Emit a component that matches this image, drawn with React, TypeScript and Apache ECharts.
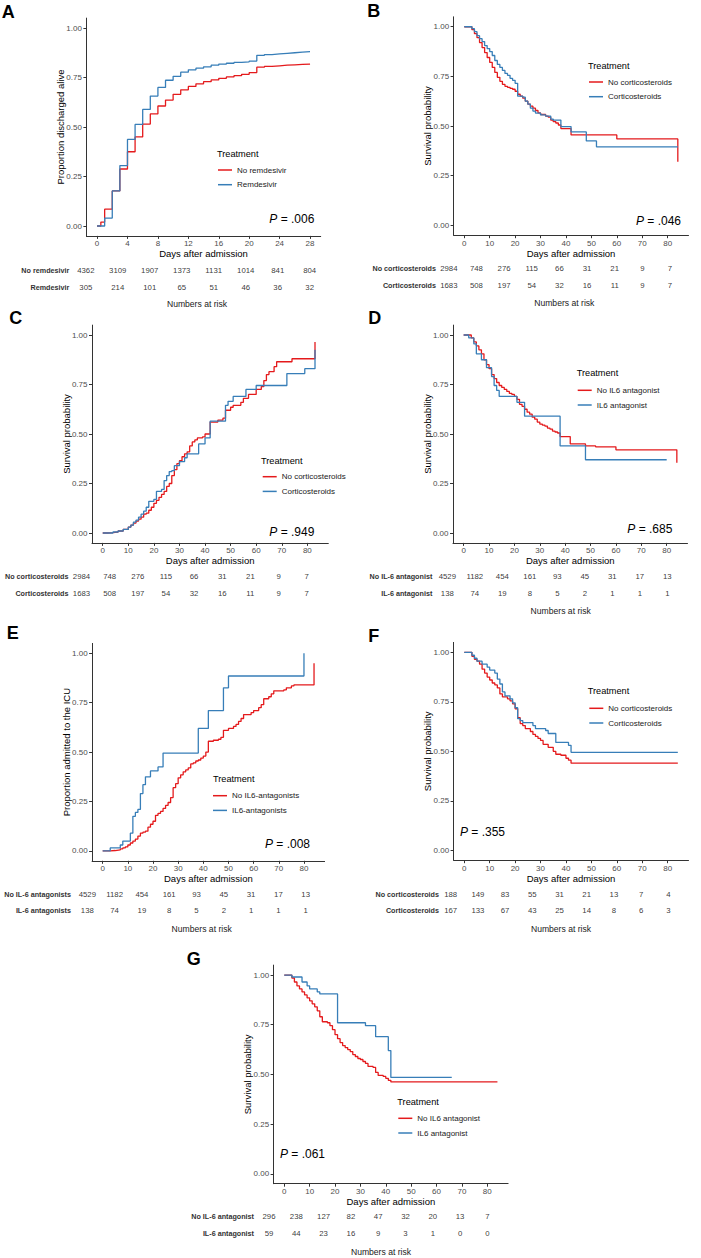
import React, { useEffect, useRef } from 'react';
import * as echarts from 'echarts';

const FONT = "'Liberation Sans', Arial, Helvetica, sans-serif";
const RED = '#E41A1C';
const BLUE = '#377EB8';

const PROB_TICKS = [0, 0.25, 0.5, 0.75, 1];
const DAY_TICKS_28 = [0, 4, 8, 12, 16, 20, 24, 28];
const DAY_TICKS_80 = [0, 10, 20, 30, 40, 50, 60, 70, 80];

// ---- Panel A: discharged alive, remdesivir ----
const A_NO_REMDESIVIR = [[0,0],[0.5,0.02],[1,0.085],[2,0.177],[3,0.288],[4,0.375],[5,0.45],[6,0.515],[7,0.566],[8,0.606],[9,0.636],[10,0.665],[11,0.688],[12,0.705],[13,0.718],[14,0.729],[15,0.738],[16,0.746],[17,0.753],[18,0.759],[19,0.766],[20,0.775],[21,0.802],[22,0.806],[23,0.809],[24,0.812],[25,0.814],[26,0.816],[27,0.818],[28,0.82]];
const A_REMDESIVIR = [[0,0],[1,0.04],[2,0.177],[3,0.305],[4,0.437],[5,0.513],[6,0.589],[7,0.656],[8,0.70],[9,0.736],[10,0.756],[11,0.777],[12,0.789],[13,0.797],[14,0.804],[15,0.812],[16,0.818],[17,0.822],[18,0.826],[19,0.829],[20,0.833],[21,0.862],[22,0.866],[23,0.869],[24,0.872],[25,0.875],[26,0.878],[27,0.881],[28,0.884]];
const A_RISK_NO = [4362, 3109, 1907, 1373, 1131, 1014, 841, 804];
const A_RISK_YES = [305, 214, 101, 65, 51, 46, 36, 32];

// ---- Panel B: survival, corticosteroids ----
const B_NO_CORTICO = [[0,1],[3,0.985],[4,0.965],[5,0.945],[6,0.92],[7,0.895],[8,0.87],[9,0.845],[10,0.82],[11,0.795],[12,0.77],[13,0.745],[14,0.725],[15,0.71],[16,0.70],[17,0.695],[18,0.69],[19,0.685],[20,0.675],[21,0.66],[22,0.65],[23,0.64],[24,0.625],[25,0.61],[26,0.60],[27,0.59],[28,0.578],[29,0.566],[30,0.558],[32,0.55],[33,0.545],[34,0.53],[35,0.522],[36,0.515],[37,0.505],[38,0.487],[42,0.455],[60,0.435],[84,0.32]];
const B_CORTICO = [[0,1],[3,0.99],[4,0.975],[5,0.955],[6,0.94],[7,0.925],[8,0.905],[9,0.89],[10,0.875],[11,0.855],[12,0.83],[13,0.81],[14,0.795],[15,0.78],[16,0.765],[17,0.755],[18,0.74],[19,0.73],[20,0.715],[21,0.65],[23,0.645],[24,0.625],[25,0.61],[26,0.59],[27,0.575],[28,0.565],[30,0.556],[32,0.55],[34,0.535],[35,0.53],[38,0.497],[42,0.47],[48,0.425],[52,0.395],[84,0.395]];
const B_RISK_NO = [2984, 748, 276, 115, 66, 31, 21, 9, 7];
const B_RISK_YES = [1683, 508, 197, 54, 32, 16, 11, 9, 7];

// ---- Panel C ----
const C_NO_CORTICO = [[0,0],[2,0.002],[4,0.005],[6,0.01],[8,0.018],[10,0.03],[11,0.04],[12,0.05],[13,0.06],[14,0.07],[15,0.08],[16,0.095],[17,0.10],[18,0.115],[19,0.13],[20,0.15],[21,0.165],[22,0.18],[23,0.195],[24,0.21],[25,0.235],[26,0.25],[27,0.29],[28,0.32],[29,0.35],[30,0.365],[31,0.385],[32,0.40],[33,0.41],[34,0.44],[35,0.46],[36,0.47],[37,0.48],[39,0.485],[40,0.50],[42,0.56],[45,0.57],[47,0.58],[48,0.62],[50,0.635],[51,0.645],[54,0.66],[55,0.68],[57,0.70],[60,0.725],[62,0.74],[63,0.77],[64,0.80],[65,0.815],[67,0.84],[68,0.865],[74,0.88],[83,0.965]];
const C_CORTICO = [[0,0],[4,0.005],[6,0.01],[8,0.018],[10,0.03],[11,0.04],[12,0.055],[13,0.065],[14,0.08],[15,0.095],[16,0.11],[17,0.13],[18,0.16],[20,0.17],[21,0.21],[23,0.22],[24,0.265],[25,0.29],[26,0.31],[27,0.315],[28,0.34],[30,0.36],[32,0.38],[33,0.40],[37.5,0.45],[40,0.48],[42,0.565],[48,0.645],[49,0.665],[51,0.69],[56,0.725],[60,0.745],[72,0.805],[79,0.83],[83,0.925]];
const C_RISK_NO = [2984, 748, 276, 115, 66, 31, 21, 9, 7];
const C_RISK_YES = [1683, 508, 197, 54, 32, 16, 11, 9, 7];

// ---- Panel D ----
const D_NO_IL6 = [[0,1],[3,0.985],[4,0.965],[5,0.945],[6,0.925],[7,0.905],[8,0.875],[9,0.85],[10,0.83],[11,0.80],[12,0.78],[13,0.76],[14,0.745],[15,0.735],[16,0.725],[17,0.715],[18,0.705],[19,0.70],[20,0.69],[21,0.675],[22,0.65],[23,0.64],[24,0.625],[25,0.61],[26,0.60],[27,0.585],[28,0.575],[29,0.56],[30,0.55],[31,0.545],[32,0.54],[33,0.53],[34,0.525],[35,0.515],[36,0.51],[37,0.505],[38,0.487],[42,0.45],[48,0.44],[52,0.435],[60,0.42],[84,0.355]];
const D_IL6 = [[0,1],[2,0.985],[4,0.955],[5,0.905],[7,0.875],[9,0.835],[11,0.79],[12,0.745],[13,0.72],[14,0.69],[21,0.66],[24,0.59],[38,0.44],[48,0.37],[80,0.37]];
const D_RISK_NO = [4529, 1182, 454, 161, 93, 45, 31, 17, 13];
const D_RISK_YES = [138, 74, 19, 8, 5, 2, 1, 1, 1];

// ---- Panel E: admitted to ICU ----
const E_NO_IL6 = [[0,0],[3,0.002],[5,0.005],[7,0.01],[8,0.015],[9,0.02],[10,0.03],[11,0.04],[12,0.05],[13,0.06],[14,0.075],[15,0.09],[16,0.095],[17,0.10],[18,0.12],[19,0.135],[20,0.15],[21,0.18],[22,0.19],[23,0.20],[24,0.215],[25,0.23],[26,0.245],[27,0.27],[28,0.32],[29,0.34],[30,0.37],[31,0.385],[32,0.40],[33,0.41],[34,0.42],[35,0.44],[36,0.445],[37,0.455],[38,0.46],[39,0.47],[40,0.48],[41,0.50],[42,0.555],[44,0.56],[46,0.565],[47,0.575],[48,0.61],[50,0.62],[52,0.63],[53,0.64],[54,0.655],[55,0.67],[56,0.69],[59,0.70],[60,0.71],[62,0.725],[63,0.74],[64,0.77],[66,0.78],[67,0.795],[68,0.81],[72,0.815],[73,0.825],[75,0.835],[76,0.84],[84,0.95]];
const E_IL6 = [[0,0],[3,0.015],[7,0.03],[8,0.05],[11,0.09],[12,0.175],[13,0.195],[14,0.21],[15,0.29],[16,0.335],[17,0.375],[19,0.405],[22,0.425],[24,0.495],[38,0.62],[42,0.71],[48,0.825],[50,0.885],[80,1.0]];
const E_RISK_NO = [4529, 1182, 454, 161, 93, 45, 31, 17, 13];
const E_RISK_YES = [138, 74, 19, 8, 5, 2, 1, 1, 1];

// ---- Panel F ----
const F_NO_CORTICO = [[0,1],[3,0.98],[4,0.965],[5,0.955],[6,0.94],[7,0.915],[8,0.895],[9,0.875],[10,0.86],[11,0.845],[12,0.835],[13,0.82],[14,0.79],[15,0.775],[17,0.765],[18,0.755],[19,0.74],[20,0.715],[21,0.67],[22,0.64],[23,0.63],[24,0.615],[26,0.60],[27,0.585],[28,0.575],[29,0.565],[30,0.555],[31,0.535],[33,0.52],[35,0.50],[36,0.485],[38,0.48],[40,0.465],[41,0.455],[42,0.44],[84,0.44]];
const F_CORTICO = [[0,1],[3,0.985],[4,0.97],[5,0.955],[7,0.94],[9,0.925],[10,0.91],[12,0.895],[13,0.865],[14,0.84],[15,0.80],[16,0.78],[18,0.765],[19,0.745],[20,0.72],[21,0.665],[22,0.655],[23,0.645],[27,0.63],[28,0.615],[32,0.605],[33,0.59],[36,0.545],[41,0.53],[42,0.495],[84,0.495]];
const F_RISK_NO = [188, 149, 83, 55, 31, 21, 13, 7, 4];
const F_RISK_YES = [167, 133, 67, 43, 25, 14, 8, 6, 3];

// ---- Panel G ----
const G_NO_IL6 = [[0,1],[3,0.985],[4,0.965],[5,0.945],[6,0.93],[7,0.915],[8,0.90],[9,0.885],[10,0.87],[11,0.855],[12,0.84],[13,0.82],[14,0.79],[15,0.765],[17,0.76],[18,0.745],[19,0.725],[20,0.70],[21,0.68],[22,0.66],[23,0.645],[24,0.635],[25,0.625],[26,0.615],[27,0.60],[28,0.59],[29,0.58],[30,0.575],[31,0.565],[32,0.555],[33,0.54],[35,0.535],[36,0.51],[37,0.495],[39,0.49],[40,0.48],[41,0.47],[42,0.462],[84,0.462]];
const G_IL6 = [[0,1],[3,0.99],[7,0.965],[9,0.945],[10,0.93],[13,0.915],[14,0.905],[21,0.76],[32,0.745],[36,0.69],[41,0.62],[42,0.485],[66,0.485]];
const G_RISK_NO = [296, 238, 127, 82, 47, 32, 20, 13, 7];
const G_RISK_YES = [59, 44, 23, 16, 9, 3, 1, 0, 0];

type Panel = {
  letter: string;
  yTitle: string;
  groups: [string, string];
  curves: [number[][], number[][]];
  ticks: number[];
  riskLabels: [string, string];
  risk: [number[], number[]];
  pText: string;
  riskTitle: boolean;
  L: any;
};

const PANELS: Panel[] = [
  {
    letter: 'A', yTitle: 'Proportion discharged alive', groups: ['No remdesivir', 'Remdesivir'],
    curves: [A_NO_REMDESIVIR, A_REMDESIVIR], ticks: DAY_TICKS_28,
    riskLabels: ['No remdesivir', 'Remdesivir'], risk: [A_RISK_NO, A_RISK_YES], pText: '.006', riskTitle: true,
    L: { plot: [86.4, 18.1, 234.3, 217.8], xMin: -1.4, xMax: 29.4, letter: [1.7, 11.7], legend: [218, 170], treat: [217, 154], p: [269.3, 219.3],
      table: { x0: 85.8, scale: 7.996, labelRight: 69.3, top: 261.5, height: 34 }, riskT: [197, 304] },
  },
  {
    letter: 'B', yTitle: 'Survival probability', groups: ['No corticosteroids', 'Corticosteroids'],
    curves: [B_NO_CORTICO, B_CORTICO], ticks: DAY_TICKS_80,
    riskLabels: ['No corticosteroids', 'Corticosteroids'], risk: [B_RISK_NO, B_RISK_YES], pText: '.046', riskTitle: true,
    L: { plot: [453.6, 16.8, 234.9, 218.4], xMin: -4.2, xMax: 88.2, letter: [367.3, 11], legend: [589, 82], treat: [588, 66], p: [636, 220.7],
      table: { x0: 448.8, scale: 2.765, labelRight: 436, top: 259.5, height: 34 }, riskT: [564.3, 303] },
  },
  {
    letter: 'C', yTitle: 'Survival probability', groups: ['No corticosteroids', 'Corticosteroids'],
    curves: [C_NO_CORTICO, C_CORTICO], ticks: DAY_TICKS_80,
    riskLabels: ['No corticosteroids', 'Corticosteroids'], risk: [C_RISK_NO, C_RISK_YES], pText: '.949', riskTitle: false,
    L: { plot: [92.0, 325.1, 236.3, 217.8], xMin: -4.2, xMax: 88.2, letter: [9.3, 318.3], legend: [262.7, 476.7], treat: [261, 460.7], p: [269.3, 531.7],
      table: { x0: 81.5, scale: 2.815, labelRight: 68.5, top: 568.7, height: 33 }, riskT: null },
  },
  {
    letter: 'D', yTitle: 'Survival probability', groups: ['No IL6 antagonist', 'IL6 antagonist'],
    curves: [D_NO_IL6, D_IL6], ticks: DAY_TICKS_80,
    riskLabels: ['No IL-6 antagonist', 'IL-6 antagonist'], risk: [D_RISK_NO, D_RISK_YES], pText: '.685', riskTitle: true,
    L: { plot: [453.0, 325.1, 234.5, 217.8], xMin: -4.2, xMax: 88.2, letter: [368.3, 318], legend: [577.7, 390.3], treat: [576.7, 373.3], p: [627.3, 529],
      table: { x0: 447.3, scale: 2.75, labelRight: 432.3, top: 568.5, height: 33.4 }, riskT: [560.7, 611] },
  },
  {
    letter: 'E', yTitle: 'Proportion admitted to the ICU', groups: ['No IL6-antagonists', 'IL6-antagonists'],
    curves: [E_NO_IL6, E_IL6], ticks: DAY_TICKS_80,
    riskLabels: ['No IL-6 antagonists', 'IL-6 antagonists'], risk: [E_RISK_NO, E_RISK_YES], pText: '.008', riskTitle: true,
    L: { plot: [92.1, 643.4, 232.5, 217.4], xMin: -4.2, xMax: 88.2, letter: [6.7, 633.3], legend: [213, 795.7], treat: [213, 779.3], p: [265, 844.3],
      table: { x0: 87.3, scale: 2.73, labelRight: 71, top: 886.5, height: 32.6 }, riskT: [201.7, 929] },
  },
  {
    letter: 'F', yTitle: 'Survival probability', groups: ['No corticosteroids', 'Corticosteroids'],
    curves: [F_NO_CORTICO, F_CORTICO], ticks: DAY_TICKS_80,
    riskLabels: ['No corticosteroids', 'Corticosteroids'], risk: [F_RISK_NO, F_RISK_YES], pText: '.355', riskTitle: true,
    L: { plot: [453.6, 642.4, 234.9, 217.8], xMin: -4.2, xMax: 88.2, letter: [368.3, 636], legend: [589.3, 708.3], treat: [587.7, 691], p: [460, 831.7],
      table: { x0: 450.7, scale: 2.72, labelRight: 439, top: 885.7, height: 33.4 }, riskT: [561, 929] },
  },
  {
    letter: 'G', yTitle: 'Survival probability', groups: ['No IL6 antagonist', 'IL6 antagonist'],
    curves: [G_NO_IL6, G_IL6], ticks: DAY_TICKS_80,
    riskLabels: ['No IL-6 antagonist', 'IL-6 antagonist'], risk: [G_RISK_NO, G_RISK_YES], pText: '.061', riskTitle: true,
    L: { plot: [273.6, 965.1, 234.5, 218.6], xMin: -4.2, xMax: 88.2, letter: [186.7, 959.3], legend: [398.3, 1118.3], treat: [397.3, 1101.7], p: [280, 1154],
      table: { x0: 269, scale: 2.73, labelRight: 254, top: 1208.4, height: 33.2 }, riskT: [381, 1251.7] },
  },
];

function buildOption() {
  const grid: any[] = [];
  const xAxis: any[] = [];
  const yAxis: any[] = [];
  const series: any[] = [];
  const legend: any[] = [];
  const graphic: any[] = [];
  const axisColor = '#333333';

  PANELS.forEach((p) => {
    const L = p.L;
    const gi = grid.length;
    grid.push({ left: L.plot[0], top: L.plot[1], width: L.plot[2], height: L.plot[3], containLabel: false, outerBoundsMode: 'none' });
    xAxis.push({
      type: 'value', gridIndex: gi, min: L.xMin, max: L.xMax,
      axisLine: { show: true, onZero: false, lineStyle: { color: axisColor, width: 1 } },
      axisTick: { show: true, customValues: p.ticks, length: 3, lineStyle: { color: axisColor, width: 1 } },
      axisLabel: { show: true, customValues: p.ticks, fontSize: 8, color: '#4D4D4D', margin: 4, fontFamily: FONT },
      splitLine: { show: false },
      name: 'Days after admission', nameLocation: 'middle', nameGap: 13, nameMoveOverlap: false,
      nameTextStyle: { fontSize: 9.5, color: '#000', fontFamily: FONT },
    });
    yAxis.push({
      type: 'value', gridIndex: gi, min: -0.05, max: 1.05,
      axisLine: { show: true, onZero: false, lineStyle: { color: axisColor, width: 1 } },
      axisTick: { show: true, customValues: PROB_TICKS, length: 3, lineStyle: { color: axisColor, width: 1 } },
      axisLabel: { show: true, customValues: PROB_TICKS, fontSize: 8, color: '#4D4D4D', margin: 4.5, fontFamily: FONT, formatter: (v: number) => v.toFixed(2) },
      splitLine: { show: false },
      name: p.yTitle, nameLocation: 'middle', nameGap: 21, nameMoveOverlap: false,
      nameTextStyle: { fontSize: 9.5, color: '#000', fontFamily: FONT },
    });
    [RED, BLUE].forEach((c, k) => {
      series.push({
        type: 'line', name: p.groups[k], xAxisIndex: gi, yAxisIndex: gi, step: 'end',
        data: p.curves[k], symbol: 'none', showSymbol: false, color: c,
        lineStyle: { color: c, width: 1.3 }, silent: true, z: 2 + k,
      });
    });
    legend.push({
      show: true, orient: 'vertical', left: L.legend[0], top: L.legend[1] - 5, padding: 0,
      itemWidth: 14, itemHeight: 1.5, itemGap: 4.7, icon: 'rect', selectedMode: false,
      data: p.groups,
      textStyle: { fontSize: 8, color: '#1a1a1a', lineHeight: 10, fontFamily: FONT },
    });

    // numbers-at-risk table
    const T = L.table;
    const tLeft = T.labelRight + 3;
    const tMin = (tLeft - T.x0) / T.scale;
    const tWidth = (L.xMax - tMin) * T.scale;
    const ti = grid.length;
    grid.push({ left: tLeft, top: T.top, width: tWidth, height: T.height, containLabel: false, outerBoundsMode: 'none' });
    xAxis.push({ type: 'value', gridIndex: ti, min: tMin, max: L.xMax, show: false });
    yAxis.push({
      type: 'category', gridIndex: ti, data: p.riskLabels, inverse: true,
      axisLine: { show: false }, axisTick: { show: false }, splitLine: { show: false },
      axisLabel: { fontSize: 7.2, fontWeight: 'bold', color: '#333333', margin: 3, fontFamily: FONT },
    });
    [0, 1].forEach((k) => {
      series.push({
        type: 'scatter', name: 'risk-' + p.letter + '-' + k, xAxisIndex: ti, yAxisIndex: ti,
        symbol: 'circle', symbolSize: 1, itemStyle: { color: 'rgba(0,0,0,0)' }, silent: true,
        label: { show: true, position: 'inside', fontSize: 7.8, color: '#000', fontFamily: FONT,
          formatter: (d: any) => String(d.value[2]) },
        data: p.ticks.map((t, j) => [t, k, p.risk[k][j]]),
      });
    });

    // texts
    graphic.push({ type: 'text', x: L.letter[0], y: L.letter[1], silent: true,
      style: { text: p.letter, fontSize: 18, fontWeight: 'bold', fill: '#000', fontFamily: FONT, align: 'left', verticalAlign: 'middle' } });
    graphic.push({ type: 'text', x: L.treat[0], y: L.treat[1], silent: true,
      style: { text: 'Treatment', fontSize: 9.2, fill: '#000', fontFamily: FONT, align: 'left', verticalAlign: 'middle' } });
    graphic.push({ type: 'text', x: L.p[0], y: L.p[1], silent: true,
      style: { text: '{i|P}{n| = ' + p.pText + '}', fontSize: 12, fontFamily: FONT, fill: '#000', align: 'left', verticalAlign: 'middle',
        rich: { i: { fontStyle: 'italic', fontSize: 12, fontFamily: FONT, fill: '#000' }, n: { fontSize: 12, fontFamily: FONT, fill: '#000' } } } });
    if (p.riskTitle && L.riskT) {
      graphic.push({ type: 'text', x: L.riskT[0], y: L.riskT[1], silent: true,
        style: { text: 'Numbers at risk', fontSize: 8.6, fill: '#1a1a1a', fontFamily: FONT, align: 'center', verticalAlign: 'middle' } });
    }
  });

  return {
    animation: false,
    backgroundColor: '#ffffff',
    textStyle: { fontFamily: FONT },
    grid, xAxis, yAxis, series, legend, graphic,
  };
}

export default function App() {
  const ref = useRef<HTMLDivElement>(null);
  useEffect(() => {
    if (!ref.current) return;
    const chart = echarts.init(ref.current, null, { renderer: 'svg' });
    chart.setOption(buildOption() as any);
    return () => chart.dispose();
  }, []);
  return (
    <div
      ref={ref}
      style={{ position: 'absolute', left: 0, top: 0, width: 701, height: 1258, background: '#ffffff' }}
    />
  );
}
